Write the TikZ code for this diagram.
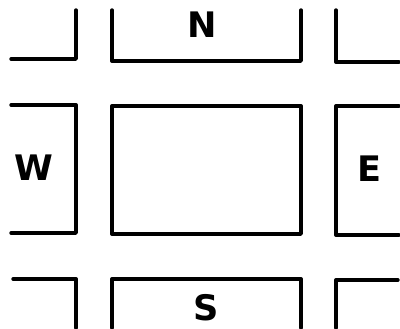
\documentclass[tikz,border=0pt]{standalone}
\usepackage{fontspec}
\setmainfont{DejaVu Sans}
\tikzset{
  blockedge/.style={line width=2.4pt, line join=round, line cap=round},
  dirlabel/.style={font=\fontsize{25}{25}\selectfont\bfseries, inner sep=0pt}
}
\begin{document}
\begin{tikzpicture}[x=0.025cm, y=-0.025cm]
        \useasboundingbox (0,0) rectangle (400,328);
        % top row
        \draw[blockedge] (76,10) -- (76,59) -- (11,59);
        \draw[blockedge] (112,10) -- (112,61) -- (301,61) -- (301,10);
        \draw[blockedge] (336,10) -- (336,62) -- (399,62);
        % middle row
        \draw[blockedge] (11,105) -- (76,105) -- (76,233) -- (11,233);
        \draw[blockedge] (112,106) rectangle (301,234);
        \draw[blockedge] (399,106) -- (336,106) -- (336,235) -- (399,235);
        % bottom row
        \draw[blockedge] (13,279) -- (76,279) -- (76,328);
        \draw[blockedge] (112,328) -- (112,279) -- (301,279) -- (301,328);
        \draw[blockedge] (336,328) -- (336,280) -- (398,280);
        % compass letters
        \node[dirlabel] (north) at (202,25) {N};
        \node[dirlabel] (west) at (34,168) {W};
        \node[dirlabel] (east) at (370,169) {E};
        \node[dirlabel] (south) at (206,308) {S};
\end{tikzpicture}
\end{document}
